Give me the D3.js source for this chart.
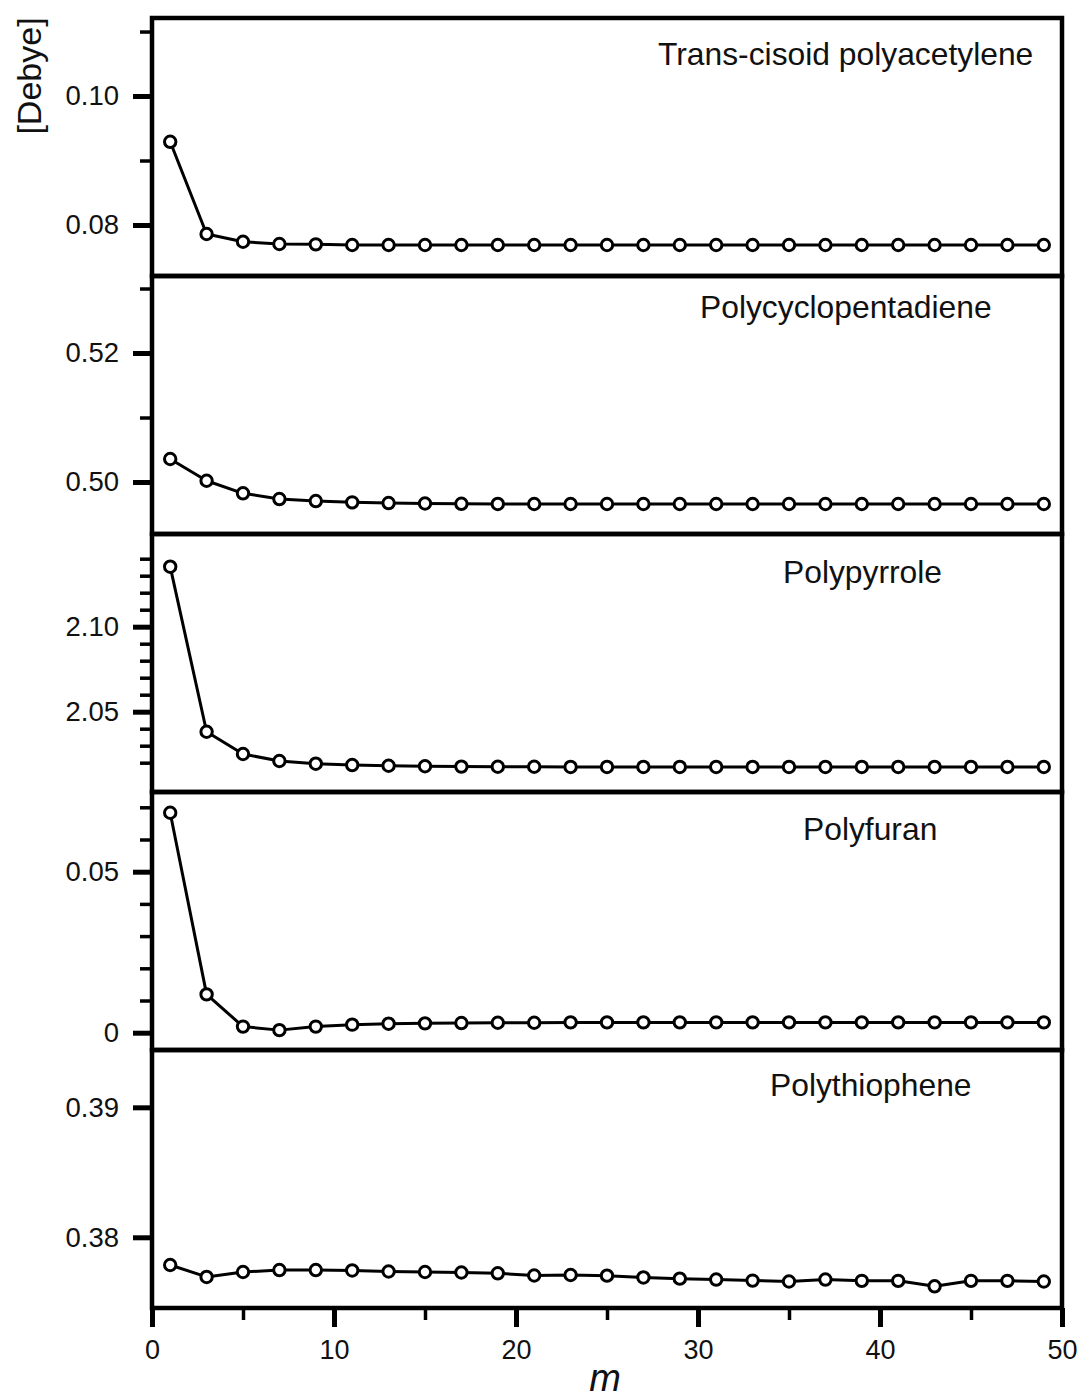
<!DOCTYPE html>
<html>
<head>
<meta charset="utf-8">
<script src="https://cdn.jsdelivr.net/npm/d3@7"></script>
<style>
  html, body { margin: 0; padding: 0; background: #fff; }
  svg { display: block; }
  text { font-family: "Liberation Sans", Arial, Helvetica, sans-serif; fill: #111; }
</style>
</head>
<body>
<svg id="chart" width="1081" height="1398"></svg>
<script>
// Chain length m (x values shared by every panel)
const mValues = [1, 3, 5, 7, 9, 11, 13, 15, 17, 19, 21, 23, 25, 27, 29, 31, 33, 35, 37, 39, 41, 43, 45, 47, 49];

// Polymer names, one panel each (top to bottom)
const panelNames = ["Trans-cisoid polyacetylene", "Polycyclopentadiene", "Polypyrrole", "Polyfuran", "Polythiophene"];

// Dipole moment per repeat unit [Debye]
const polyacetylene = [0.0929, 0.0786, 0.0774, 0.07705, 0.0770, 0.0769, 0.0769, 0.0769, 0.0769, 0.0769, 0.0769, 0.0769, 0.0769,
  0.0769, 0.0769, 0.0769, 0.0769, 0.0769, 0.0769, 0.0769, 0.0769, 0.0769, 0.0769, 0.0769, 0.0769];
const polycyclopentadiene = [0.50357, 0.5002, 0.49825, 0.49736, 0.49705, 0.49685, 0.49674, 0.49667, 0.49662, 0.49660, 0.49659, 0.49659, 0.49659,
  0.49659, 0.49659, 0.49659, 0.49659, 0.49659, 0.49659, 0.49659, 0.49659, 0.49659, 0.49659, 0.49659, 0.49659];
const polypyrrole = [2.1353, 2.0382, 2.0251, 2.0210, 2.0194, 2.0186, 2.0182, 2.0179, 2.0177, 2.0176, 2.0176, 2.0175, 2.0175,
  2.0175, 2.0175, 2.0175, 2.0175, 2.0175, 2.0175, 2.0175, 2.0175, 2.0175, 2.0175, 2.0175, 2.0175];
const polyfuran = [0.0683, 0.0119, 0.0019, 0.0008, 0.0019, 0.0025, 0.0028, 0.0029, 0.0030, 0.0031, 0.0031, 0.0032, 0.0032,
  0.0032, 0.0032, 0.0032, 0.0032, 0.0032, 0.0032, 0.0032, 0.0032, 0.0032, 0.0032, 0.0032, 0.0032];
const polythiophene = [0.37787, 0.37695, 0.37733, 0.37748, 0.37748, 0.37745, 0.37737, 0.37733, 0.37729, 0.37723, 0.37706, 0.37710, 0.37705,
  0.37691, 0.37682, 0.37675, 0.37667, 0.37660, 0.37675, 0.37665, 0.37665, 0.37623, 0.37665, 0.37665, 0.37660];

// Visible y range of each panel
const yDomains = [[0.07209, 0.1121], [0.49194, 0.53194], [2.00276, 2.15453], [-0.00537, 0.07475], [0.37456, 0.39441]];

// Labelled and unlabelled y ticks per panel
const yMajorTicks = [[0.08, 0.10], [0.50, 0.52], [2.05, 2.10], [0, 0.05], [0.38, 0.39]];
const yMajorLabels = [["0.08", "0.10"], ["0.50", "0.52"], ["2.05", "2.10"], ["0", "0.05"], ["0.38", "0.39"]];
const yMinorTicks = [
  [0.09, 0.11],
  [0.51, 0.53],
  [2.02, 2.03, 2.04, 2.06, 2.07, 2.08, 2.09, 2.11, 2.12, 2.13, 2.14],
  [0.01, 0.02, 0.03, 0.04, 0.06, 0.07],
  []
];

// x axis ticks
const xMajorTicks = [0, 10, 20, 30, 40, 50];
const xMinorTicks = [5, 15, 25, 35, 45];

// Panel title placement (left edge, baseline below panel top)
const titleLeft = [658, 700, 783, 803, 770];
const titleBaselineOffset = [47, 42, 49, 48, 46];

const seriesList = [polyacetylene, polycyclopentadiene, polypyrrole, polyfuran, polythiophene];

const svg = d3.select("#chart");
const plotLeft = 152, plotRight = 1062, plotTop = 18, plotBottom = 1308;
const panelH = (plotBottom - plotTop) / panelNames.length;

const x = d3.scaleLinear().domain([0, 50]).range([plotLeft, plotRight]);

panelNames.forEach((name, i) => {
  const y0 = plotTop + i * panelH, y1 = y0 + panelH;
  const y = d3.scaleLinear().domain(yDomains[i]).range([y1, y0]);
  const g = svg.append("g");

  // minor y ticks
  g.append("g")
    .attr("transform", `translate(${plotLeft},0)`)
    .call(d3.axisLeft(y).tickValues(yMinorTicks[i]).tickSize(12).tickFormat(""))
    .call(a => a.select(".domain").remove())
    .call(a => a.selectAll("line").attr("stroke", "#000").attr("stroke-width", 3.5));

  // major y ticks with labels
  g.append("g")
    .attr("transform", `translate(${plotLeft},0)`)
    .call(d3.axisLeft(y).tickValues(yMajorTicks[i]).tickSize(19).tickPadding(14)
      .tickFormat((d, k) => yMajorLabels[i][k]))
    .call(a => a.select(".domain").remove())
    .call(a => a.selectAll("line").attr("stroke", "#000").attr("stroke-width", 5))
    .call(a => a.selectAll("text")
      .attr("font-size", 27.5)
      .attr("font-family", "'Liberation Sans', Arial, sans-serif")
      .attr("fill", "#111"));

  // data line and open markers
  const pts = mValues.map((m, k) => [m, seriesList[i][k]]);
  g.append("path")
    .datum(pts)
    .attr("fill", "none")
    .attr("stroke", "#000")
    .attr("stroke-width", 3)
    .attr("stroke-linejoin", "round")
    .attr("d", d3.line().x(d => x(d[0])).y(d => y(d[1])));

  g.selectAll("circle")
    .data(pts)
    .join("circle")
    .attr("cx", d => x(d[0]))
    .attr("cy", d => y(d[1]))
    .attr("r", 5.7)
    .attr("fill", "#fff")
    .attr("stroke", "#000")
    .attr("stroke-width", 3);

  // frame
  g.append("rect")
    .attr("x", plotLeft).attr("y", y0)
    .attr("width", plotRight - plotLeft).attr("height", panelH)
    .attr("fill", "none")
    .attr("stroke", "#000")
    .attr("stroke-width", 4.5);

  // title
  g.append("text")
    .attr("x", titleLeft[i])
    .attr("y", y0 + titleBaselineOffset[i])
    .attr("font-size", 31.8)
    .text(name);
});

// x axis (bottom panel only)
svg.append("g")
  .attr("transform", `translate(0,${plotBottom})`)
  .call(d3.axisBottom(x).tickValues(xMinorTicks).tickSize(12).tickFormat(""))
  .call(a => a.select(".domain").remove())
  .call(a => a.selectAll("line").attr("stroke", "#000").attr("stroke-width", 3.5));

svg.append("g")
  .attr("transform", `translate(0,${plotBottom})`)
  .call(d3.axisBottom(x).tickValues(xMajorTicks).tickSize(19).tickPadding(13).tickFormat(d3.format("d")))
  .call(a => a.select(".domain").remove())
  .call(a => a.selectAll("line").attr("stroke", "#000").attr("stroke-width", 5))
  .call(a => a.selectAll("text")
    .attr("font-size", 27)
    .attr("font-family", "'Liberation Sans', Arial, sans-serif")
    .attr("fill", "#111"));

// axis titles
svg.append("text")
  .attr("transform", "translate(41,76) rotate(-90)")
  .attr("text-anchor", "middle")
  .attr("font-size", 34)
  .text("[Debye]");

svg.append("text")
  .attr("x", 605)
  .attr("y", 1391)
  .attr("text-anchor", "middle")
  .attr("font-family", "'Liberation Serif', 'Times New Roman', serif")
  .attr("font-style", "italic")
  .attr("font-size", 38)
  .text("m");
</script>
</body>
</html>
